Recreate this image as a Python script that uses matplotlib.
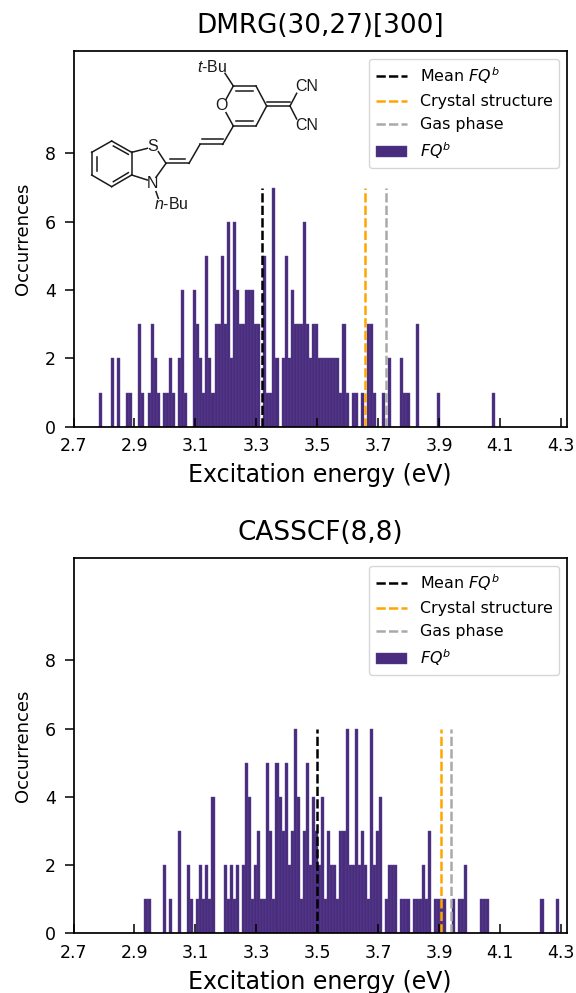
import numpy as np
import matplotlib
matplotlib.use('Agg')
import matplotlib.pyplot as plt

# counts per 0.01 eV bin, starting at 2.70 eV
dmrg_counts = [0,0,0,0,0,0,0,0,1,0,
               0,0,2,0,2,0,0,1,1,0,
               0,3,1,0,1,3,2,1,0,1,
               1,2,1,0,2,4,1,0,0,4,
               3,2,1,5,2,1,3,3,5,3,
               6,2,6,4,3,3,4,4,4,3,
               3,0,5,1,1,7,2,0,2,5,
               2,4,3,3,3,6,3,2,3,3,
               2,2,2,2,2,2,2,1,3,1,
               0,1,1,0,1,0,3,3,1,0,
               0,1,0,2,0,0,0,2,1,1,
               0,0,3,0,0,0,0,0,0,1,
               0,0,0,0,0,0,0,0,0,0,
               0,0,0,0,0,0,0,1,0,0]
casscf_counts = [0,0,0,0,0,0,0,0,0,0,
                 0,0,0,0,0,0,0,0,0,0,
                 0,0,0,1,1,0,0,0,0,2,
                 0,1,0,0,3,0,0,2,1,0,
                 1,2,1,2,1,4,0,0,0,2,
                 1,2,1,2,0,2,5,4,1,2,
                 3,1,1,5,3,1,5,4,3,5,
                 2,3,6,4,1,3,5,2,4,3,
                 2,4,1,3,2,2,1,3,3,6,
                 2,2,6,2,3,2,1,6,2,3,
                 4,0,1,2,2,2,0,1,1,1,
                 0,1,1,1,2,1,3,0,1,1,
                 1,1,0,0,1,0,1,1,2,0,
                 0,0,0,1,1,1,0,0,0,0,
                 0,0,0,0,0,0,0,0,0,0,
                 0,0,0,1,0,0,0,0,1,0]

bin_start = 2.703
bin_width = 0.01

dmrg_mean, dmrg_crystal, dmrg_gas = 3.318, 3.657, 3.727
casscf_mean, casscf_crystal, casscf_gas = 3.5, 3.908, 3.938
dmrg_line_top = 7
casscf_line_top = 6

x_ticks = [2.7, 2.9, 3.1, 3.3, 3.5, 3.7, 3.9, 4.1, 4.3]
y_ticks = [0, 2, 4, 6, 8]

W, H = 576, 993
purple = '#4a2c7e'
dash = (3.7, 1.3)

plt.rcParams['mathtext.it'] = 'Liberation Sans:italic'
plt.rcParams['mathtext.rm'] = 'Liberation Sans'
plt.rcParams['mathtext.fontset'] = 'dejavusans'
plt.rcParams['axes.linewidth'] = 1.25


def plot_panel(box, title, counts, mean, crystal, gas, line_top):
    left, top, right, bottom = box
    ax = fig.add_axes([left/W, 1-bottom/H, (right-left)/W, (bottom-top)/H])
    lefts = bin_start + bin_width*np.arange(len(counts))
    ax.plot([mean, mean], [0, line_top], color='black', lw=1.8, dashes=dash, label='Mean $FQ^b$')
    ax.plot([crystal, crystal], [0, line_top], color='orange', lw=1.8, dashes=dash, label='Crystal structure')
    ax.plot([gas, gas], [0, line_top], color='darkgray', lw=1.8, dashes=dash, label='Gas phase')
    ax.bar(lefts, counts, width=bin_width, align='edge', color=purple,
           edgecolor='#5c4690', linewidth=0.3, label='$FQ^b$')
    ax.set_xlim(2.7, 4.32)
    ax.set_ylim(0, 11)
    ax.set_xticks(x_ticks)
    ax.set_yticks(y_ticks)
    ax.tick_params(axis='x', direction='in', length=6.5, width=1.1, labelsize=12.5, pad=7.5)
    ax.tick_params(axis='y', direction='out', length=6.5, width=1.1, labelsize=12.5, pad=6)
    ax.set_xlabel('Excitation energy (eV)', fontsize=17, labelpad=6)
    ax.set_ylabel('Occurrences', fontsize=13, labelpad=9.5)
    ax.set_title(title, fontsize=18.9, pad=13)
    ax.legend(loc='upper right', fontsize=11.4, borderaxespad=0.5, labelspacing=0.52)
    return ax


def draw_molecule():
    # overlay in zoomed-crop coordinates of the structure drawing
    ov = fig.add_axes([0, 0, 1, 1])
    ov.set_xlim(0, W)
    ov.set_ylim(H, 0)
    ov.axis('off')
    ov.patch.set_alpha(0)
    bonds = [
        ((65,337),(125,303)), ((125,303),(185,337)), ((185,337),(185,405)),
        ((185,405),(125,440)), ((125,440),(65,405)), ((65,405),(65,337)),
        ((80,350),(80,392)), ((130,318),(175,343)), ((130,425),(175,398)),
        ((185,337),(232,325)), ((265,335),(288,370)), ((185,405),(232,420)),
        ((258,412),(288,370)), ((288,370),(357,370)), ((300,358),(345,358)),
        ((357,370),(390,313)), ((390,313),(458,313)), ((395,298),(458,298)),
        ((458,313),(490,258)), ((490,258),(468,218)), ((468,178),(490,138)),
        ((490,138),(558,138)), ((497,152),(550,152)), ((558,138),(590,198)),
        ((590,198),(558,258)), ((558,258),(490,258)), ((497,243),(550,243)),
        ((590,198),(660,198)), ((590,186),(660,186)), ((660,198),(680,160)),
        ((660,198),(680,237)), ((465,100),(490,138)), ((258,455),(265,475)),
    ]
    for a, b in bonds:
        ov.plot([70+a[0]/3, 70+b[0]/3], [40+a[1]/3, 40+b[1]/3], color='#1a1a1a', lw=1.1)
    labels = [(247,320,'S'), (248,430,'N'), (455,198,'O'), (710,140,'CN'), (710,257,'CN'),
              (425,80,'$\\mathit{t}$-Bu'), (305,493,'$\\mathit{n}$-Bu')]
    for x, y, s in labels:
        ov.text(70+x/3, 40+y/3, s, ha='center', va='center', fontsize=11.5,
                family='Liberation Sans', color='#1a1a1a', math_fontfamily='custom')


fig = plt.figure(figsize=(W/100, H/100), dpi=100)

plot_panel((73.5, 51, 567, 426.7), 'DMRG(30,27)[300]', dmrg_counts,
           dmrg_mean, dmrg_crystal, dmrg_gas, dmrg_line_top)
plot_panel((73.5, 558, 567, 933.3), 'CASSCF(8,8)', casscf_counts,
           casscf_mean, casscf_crystal, casscf_gas, casscf_line_top)
draw_molecule()

plt.savefig('out.png', dpi=100)
